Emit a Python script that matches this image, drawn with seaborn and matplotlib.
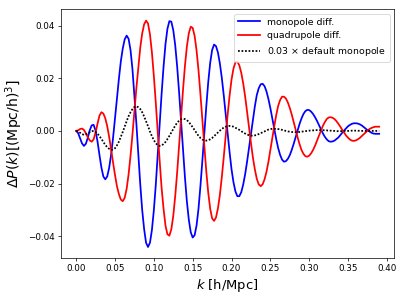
import numpy as np
import pandas as pd
import matplotlib
matplotlib.use("Agg")
import matplotlib.pyplot as plt
import seaborn as sns

k_values = [round(0.0025 * i, 4) for i in range(157)]

monopole_diff = [
    0.0000, -0.0008, -0.0027, -0.0047, -0.0057, -0.0049, -0.0026, 0.0002, 0.0021, 0.0023,
    0.0001, -0.0040, -0.0091, -0.0139, -0.0173, -0.0184, -0.0173, -0.0140, -0.0090, -0.0027,
    0.0046, 0.0122, 0.0197, 0.0264, 0.0313, 0.0348, 0.0362, 0.0350, 0.0307, 0.0234,
    0.0132, 0.0029, -0.0088, -0.0202, -0.0300, -0.0373, -0.0425, -0.0441, -0.0425, -0.0377,
    -0.0302, -0.0205, -0.0093, 0.0025, 0.0141, 0.0244, 0.0330, 0.0388, 0.0417, 0.0415,
    0.0383, 0.0326, 0.0245, 0.0147, 0.0039, -0.0069, -0.0175, -0.0267, -0.0337, -0.0385,
    -0.0405, -0.0396, -0.0359, -0.0295, -0.0208, -0.0112, -0.0008, 0.0093, 0.0185, 0.0258,
    0.0307, 0.0328, 0.0322, 0.0298, 0.0256, 0.0201, 0.0135, 0.0063, -0.0011, -0.0081,
    -0.0146, -0.0195, -0.0230, -0.0248, -0.0248, -0.0233, -0.0204, -0.0165, -0.0117, -0.0064,
    -0.0009, 0.0045, 0.0093, 0.0136, 0.0162, 0.0177, 0.0179, 0.0170, 0.0150, 0.0121,
    0.0086, 0.0047, 0.0007, -0.0031, -0.0065, -0.0091, -0.0109, -0.0117, -0.0115, -0.0106,
    -0.0092, -0.0072, -0.0049, -0.0024, 0.0002, 0.0026, 0.0047, 0.0064, 0.0075, 0.0080,
    0.0079, 0.0073, 0.0064, 0.0052, 0.0038, 0.0022, 0.0006, -0.0009, -0.0022, -0.0032,
    -0.0039, -0.0041, -0.0040, -0.0037, -0.0031, -0.0025, -0.0016, -0.0007, 0.0002, 0.0010,
    0.0018, 0.0023, 0.0027, 0.0029, 0.0029, 0.0028, 0.0025, 0.0021, 0.0015, 0.0009,
    0.0003, -0.0002, -0.0007, -0.0010, -0.0011, -0.0011, -0.0011,
]

quadrupole_diff = [
    0.0000, 0.0002, 0.0007, 0.0009, 0.0004, -0.0009, -0.0024, -0.0036, -0.0041, -0.0032,
    -0.0006, 0.0027, 0.0058, 0.0071, 0.0066, 0.0048, 0.0018, -0.0023, -0.0070, -0.0120,
    -0.0167, -0.0210, -0.0240, -0.0261, -0.0267, -0.0254, -0.0220, -0.0165, -0.0094, -0.0013,
    0.0074, 0.0162, 0.0239, 0.0316, 0.0370, 0.0405, 0.0419, 0.0408, 0.0367, 0.0299,
    0.0209, 0.0107, -0.0004, -0.0114, -0.0217, -0.0296, -0.0360, -0.0393, -0.0398, -0.0374,
    -0.0323, -0.0248, -0.0158, -0.0056, 0.0052, 0.0154, 0.0246, 0.0320, 0.0371, 0.0396,
    0.0391, 0.0361, 0.0305, 0.0230, 0.0138, 0.0039, -0.0059, -0.0154, -0.0234, -0.0295,
    -0.0332, -0.0342, -0.0329, -0.0294, -0.0243, -0.0175, -0.0099, -0.0018, 0.0062, 0.0134,
    0.0195, 0.0237, 0.0260, 0.0263, 0.0249, 0.0221, 0.0181, 0.0131, 0.0074, 0.0014,
    -0.0046, -0.0101, -0.0146, -0.0182, -0.0203, -0.0210, -0.0203, -0.0184, -0.0155, -0.0117,
    -0.0073, -0.0027, 0.0018, 0.0060, 0.0095, 0.0117, 0.0130, 0.0130, 0.0123, 0.0108,
    0.0087, 0.0062, 0.0034, 0.0005, -0.0024, -0.0050, -0.0072, -0.0087, -0.0096, -0.0098,
    -0.0094, -0.0085, -0.0072, -0.0056, -0.0037, -0.0018, 0.0001, 0.0019, 0.0033, 0.0045,
    0.0051, 0.0052, 0.0050, 0.0045, 0.0037, 0.0027, 0.0016, 0.0004, -0.0007, -0.0018,
    -0.0026, -0.0033, -0.0037, -0.0038, -0.0036, -0.0032, -0.0027, -0.0020, -0.0013, -0.0006,
    0.0001, 0.0007, 0.0011, 0.0014, 0.0016, 0.0016, 0.0016,
]

default_monopole_scaled = [
    0.0000, -0.0002, -0.0007, -0.0012, -0.0015, -0.0013, -0.0009, -0.0005, -0.0001, 0.0000,
    -0.0004, -0.0010, -0.0020, -0.0030, -0.0042, -0.0053, -0.0062, -0.0068, -0.0072, -0.0071,
    -0.0066, -0.0055, -0.0041, -0.0023, -0.0004, 0.0017, 0.0037, 0.0056, 0.0071, 0.0083,
    0.0091, 0.0093, 0.0090, 0.0083, 0.0071, 0.0055, 0.0037, 0.0018, -0.0002, -0.0020,
    -0.0035, -0.0047, -0.0054, -0.0057, -0.0055, -0.0050, -0.0042, -0.0031, -0.0019, -0.0006,
    0.0007, 0.0020, 0.0031, 0.0039, 0.0044, 0.0046, 0.0045, 0.0041, 0.0034, 0.0024,
    0.0014, 0.0003, -0.0008, -0.0019, -0.0027, -0.0033, -0.0036, -0.0037, -0.0035, -0.0032,
    -0.0027, -0.0020, -0.0013, -0.0006, 0.0001, 0.0007, 0.0013, 0.0016, 0.0019, 0.0019,
    0.0018, 0.0016, 0.0012, 0.0008, 0.0004, -0.0001, -0.0006, -0.0010, -0.0014, -0.0016,
    -0.0018, -0.0018, -0.0017, -0.0015, -0.0012, -0.0009, -0.0005, -0.0002, 0.0002, 0.0005,
    0.0007, 0.0008, 0.0008, 0.0008, 0.0007, 0.0006, 0.0004, 0.0002, 0.0000, -0.0002,
    -0.0003, -0.0004, -0.0005, -0.0005, -0.0005, -0.0004, -0.0003, -0.0002, -0.0001, 0.0000,
    0.0001, 0.0002, 0.0002, 0.0003, 0.0003, 0.0003, 0.0003, 0.0003, 0.0002, 0.0002,
    0.0001, 0.0001, 0.0000, 0.0000, -0.0001, -0.0001, -0.0001, -0.0001, 0.0000, 0.0000,
    0.0000, 0.0000, 0.0001, 0.0001, 0.0001, 0.0001, 0.0000, 0.0000, 0.0000, 0.0000,
    0.0000, 0.0000, 0.0000, 0.0000, 0.0000, 0.0000, 0.0000,
]

series_labels = ["monopole diff.", "quadrupole diff.", r"0.03 $\times$ default monopole"]
x_ticks = [0.0, 0.05, 0.1, 0.15, 0.2, 0.25, 0.3, 0.35, 0.4]
y_ticks = [-0.04, -0.02, 0.0, 0.02, 0.04]

n = len(k_values)
df = pd.DataFrame({
    "k": k_values * 3,
    "dP": monopole_diff[:n] + quadrupole_diff[:n] + default_monopole_scaled[:n],
    "series": [series_labels[0]] * n + [series_labels[1]] * n + [series_labels[2]] * n,
})

plt.rcParams["font.family"] = ["DejaVu Sans"]
dpi = 63.28
fig = plt.figure(figsize=(405 / dpi, 298 / dpi), dpi=dpi)
ax = fig.add_axes([0.1506, 0.1332, 0.823, 0.8356])

sns.lineplot(
    data=df, x="k", y="dP", hue="series", style="series",
    palette={series_labels[0]: "blue", series_labels[1]: "red", series_labels[2]: "black"},
    dashes={series_labels[0]: "", series_labels[1]: "", series_labels[2]: (1, 1)},
    linewidth=2.0, ax=ax, sort=False, estimator=None,
)

ax.set_xlabel(r"$k$ [h/Mpc]", fontsize=15)
ax.set_ylabel(r"$\Delta P(k) [(\mathrm{Mpc/h})^3]$", fontsize=16)
ax.set_xticks(x_ticks)
ax.set_yticks(y_ticks)
ax.tick_params(labelsize=10)
ax.legend(loc="upper right", fontsize=10.7, title=None, handlelength=2.3)

fig.savefig("out.png", dpi=dpi)
